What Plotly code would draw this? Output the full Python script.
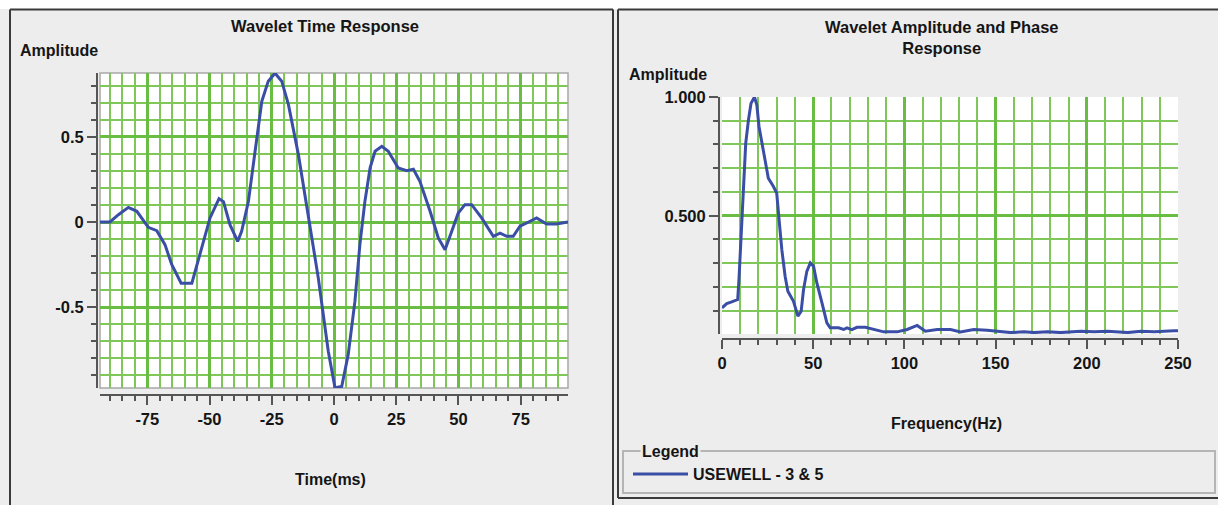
import plotly.graph_objects as go

# Wavelet extracted from well tie: time-domain samples
time_ms = [-94, -90, -86.6, -82.6, -79.2, -74.6, -71.2, -67.9, -65.2, -61.4,
           -57.1, -53.1, -49.8, -46.2, -44.4, -41.8, -38.7, -37.1, -34.4, -31.7,
           -29, -26.4, -23.7, -21, -18.3, -14.3, -10.3, -6.3, -2.3, 0.4,
           3.1, 5.7, 8.4, 10.4, 12.4, 14.5, 16.5, 19.2, 21.8, 25.8,
           29.2, 31.9, 34.5, 38.6, 41.9, 44.6, 47.3, 49.9, 52.6, 55.3,
           59.3, 64, 66.7, 69.4, 72, 74.7, 77.4, 81.4, 85.4, 89.4, 94]
time_amp = [0, 0, 0.043, 0.086, 0.063, -0.031, -0.051, -0.133, -0.25, -0.36,
            -0.36, -0.153, 0.024, 0.137, 0.12, -0.016, -0.114, -0.055, 0.12, 0.416,
            0.71, 0.828, 0.875, 0.828, 0.69, 0.396, 0.043, -0.33, -0.76, -0.975,
            -0.967, -0.78, -0.467, -0.133, 0.12, 0.318, 0.416, 0.445, 0.416, 0.318,
            0.302, 0.31, 0.239, 0.063, -0.094, -0.163, -0.055, 0.053, 0.102, 0.102,
            0.024, -0.084, -0.065, -0.084, -0.084, -0.025, -0.006, 0.024, -0.012, -0.012, 0]

# Amplitude spectrum of the same wavelet (normalised)
freq_hz = [0, 2.6, 5.3, 8.6, 9.3, 10.4, 11.7, 13, 14.5, 15.9,
           17.8, 19.1, 20.3, 22.7, 25.4, 28.2, 30, 31.3, 32.8, 34.6,
           36.1, 39.2, 41.6, 43.4, 44.7, 46.5, 48.4, 50.2, 52, 54.8,
           57.5, 59.3, 63.9, 66.7, 68.5, 71.2, 74, 78.6, 83.2, 88.6,
           96, 101.5, 107, 111.5, 118, 125.3, 130.8, 138, 145.4, 152.7,
           158.2, 165.6, 171, 178.4, 185.7, 196.7, 204, 211.4, 222.4, 229.7,
           237, 248, 250]
freq_amp = [0.112, 0.13, 0.137, 0.147, 0.231, 0.4, 0.581, 0.805, 0.903, 0.973,
            1.0, 0.966, 0.875, 0.777, 0.658, 0.623, 0.595, 0.483, 0.357, 0.245,
            0.182, 0.14, 0.077, 0.098, 0.189, 0.266, 0.301, 0.287, 0.217, 0.133,
            0.049, 0.028, 0.028, 0.021, 0.028, 0.02, 0.03, 0.03, 0.021, 0.011,
            0.011, 0.021, 0.038, 0.014, 0.021, 0.021, 0.011, 0.021, 0.018, 0.011,
            0.008, 0.011, 0.008, 0.011, 0.008, 0.014, 0.011, 0.014, 0.008, 0.014,
            0.011, 0.016, 0.016]

time_ticks = [-75, -50, -25, 0, 25, 50, 75]
time_ticktext = ["-75", "-50", "-25", "0", "25", "50", "75"]
amp_ticks = [-0.5, 0, 0.5]
amp_ticktext = ["-0.5", "0", "0.5"]
freq_ticks = [0, 50, 100, 150, 200, 250]
spec_ticks = [0.5, 1.0]
spec_ticktext = ["0.500", "1.000"]
series_name = "USEWELL - 3 & 5"

W, H = 1218, 505
BG = "#EDEDED"
BLUE = "#3B4EA6"
GRID_MAJOR = "#69BD43"
GRID_MINOR = "#80C75A"
AXIS = "#555555"
FRAME = "#3A3A3A"
TEXT = "#151515"
FONT = "Liberation Sans, Arial, sans-serif"


def fx(x):
    return x / W


def fy(y):
    return 1 - y / H


tickfont = dict(family=FONT, size=16.5, color=TEXT, weight="bold")


def axis_style(**kw):
    base = dict(
        showline=True, linecolor=AXIS, linewidth=2,
        ticks="outside", ticklen=9, tickwidth=2, tickcolor=AXIS,
        showgrid=True, gridcolor=GRID_MAJOR, gridwidth=3,
        zeroline=False, tickfont=tickfont, anchor="free", fixedrange=True,
        automargin=False,
    )
    base.update(kw)
    return base


def minor_style(dtick):
    return dict(dtick=dtick, tick0=0, ticks="outside", ticklen=5, tickwidth=2,
                tickcolor=AXIS, showgrid=True, gridcolor=GRID_MINOR, gridwidth=2)


fig = go.Figure()
fig.add_trace(go.Scatter(x=time_ms, y=time_amp, mode="lines",
                         line=dict(color=BLUE, width=3),
                         xaxis="x", yaxis="y", showlegend=False,
                         name=series_name))
fig.add_trace(go.Scatter(x=freq_hz, y=freq_amp, mode="lines",
                         line=dict(color=BLUE, width=3),
                         xaxis="x2", yaxis="y2", showlegend=True,
                         name=series_name))

fig.update_layout(
    width=W, height=H,
    margin=dict(l=0, r=0, t=0, b=0, pad=0, autoexpand=False),
    paper_bgcolor=BG, plot_bgcolor="white",
    font=dict(family=FONT, color=TEXT),
    xaxis=axis_style(domain=[fx(100), fx(568)], range=[-94, 94],
                     position=fy(395),
                     tickvals=time_ticks, ticktext=time_ticktext,
                     minor=minor_style(5)),
    yaxis=axis_style(domain=[fy(388), fy(73)], range=[-0.976, 0.876],
                     position=fx(97),
                     tickvals=amp_ticks, ticktext=amp_ticktext,
                     minor=minor_style(0.1)),
    xaxis2=axis_style(domain=[fx(722), fx(1178)], range=[0, 250],
                      position=fy(339),
                      tickvals=freq_ticks,
                      minor=minor_style(10)),
    yaxis2=axis_style(domain=[fy(334), fy(97)], range=[0.002, 1.0],
                      position=fx(719),
                      tickvals=spec_ticks, ticktext=spec_ticktext,
                      minor=minor_style(0.1)),
    legend=dict(x=fx(628), y=fy(474), xanchor="left", yanchor="middle",
                bgcolor="rgba(0,0,0,0)", itemwidth=55,
                font=dict(family=FONT, size=16, color=TEXT, weight="bold")),
)


def seg(x0, y0, x1, y1, color=FRAME, width=2):
    return dict(type="line", xref="paper", yref="paper",
                x0=fx(x0), y0=fy(y0), x1=fx(x1), y1=fy(y1),
                line=dict(color=color, width=width), layer="below")


shapes = [
    # white strip above the panels
    dict(type="rect", xref="paper", yref="paper", x0=0, x1=1, y0=fy(9), y1=1,
         fillcolor="white", line=dict(width=0), layer="below"),
    # left panel frame (runs off the bottom edge)
    seg(10, 9.5, 613, 9.5), seg(10, 9.5, 10, 505), seg(613, 9.5, 613, 505),
    # right panel frame (runs off the right edge)
    seg(618, 9.5, 1218, 9.5), seg(618, 9.5, 618, 498), seg(618, 498, 1218, 498),
    # plot-area outline of the time response
    dict(type="rect", xref="paper", yref="paper", x0=fx(100), x1=fx(568),
         y0=fy(388), y1=fy(73), line=dict(color="#A8A8A8", width=1.5), layer="below"),
    # legend group box
    dict(type="rect", xref="paper", yref="paper", x0=fx(623), x1=fx(1215),
         y0=fy(493), y1=fy(451), line=dict(color="#B5B5B5", width=2), layer="below"),
]
fig.update_layout(shapes=shapes)

lbl = dict(family=FONT, size=16, color=TEXT, weight="bold")
annotations = [
    dict(text="Wavelet Time Response", x=fx(325), y=fy(26), xanchor="center",
         yanchor="middle", font=dict(lbl, size=16.5)),
    dict(text="Amplitude", x=fx(18), y=fy(51), xanchor="left", yanchor="middle", font=lbl),
    dict(text="Time(ms)", x=fx(330), y=fy(479), xanchor="center", yanchor="middle", font=lbl),
    dict(text="Wavelet Amplitude and Phase<br>Response", x=fx(942), y=fy(38),
         xanchor="center", yanchor="middle", align="center", font=dict(lbl, size=16.5)),
    dict(text="Amplitude", x=fx(627), y=fy(74), xanchor="left", yanchor="middle", font=lbl),
    dict(text="Frequency(Hz)", x=fx(946), y=fy(423), xanchor="center", yanchor="middle", font=lbl),
    dict(text="Legend", x=fx(640), y=fy(451), xanchor="left", yanchor="middle",
         bgcolor=BG, font=lbl),
]
for a in annotations:
    a.update(xref="paper", yref="paper", showarrow=False)
fig.update_layout(annotations=annotations)

fig.write_html("out.html")
